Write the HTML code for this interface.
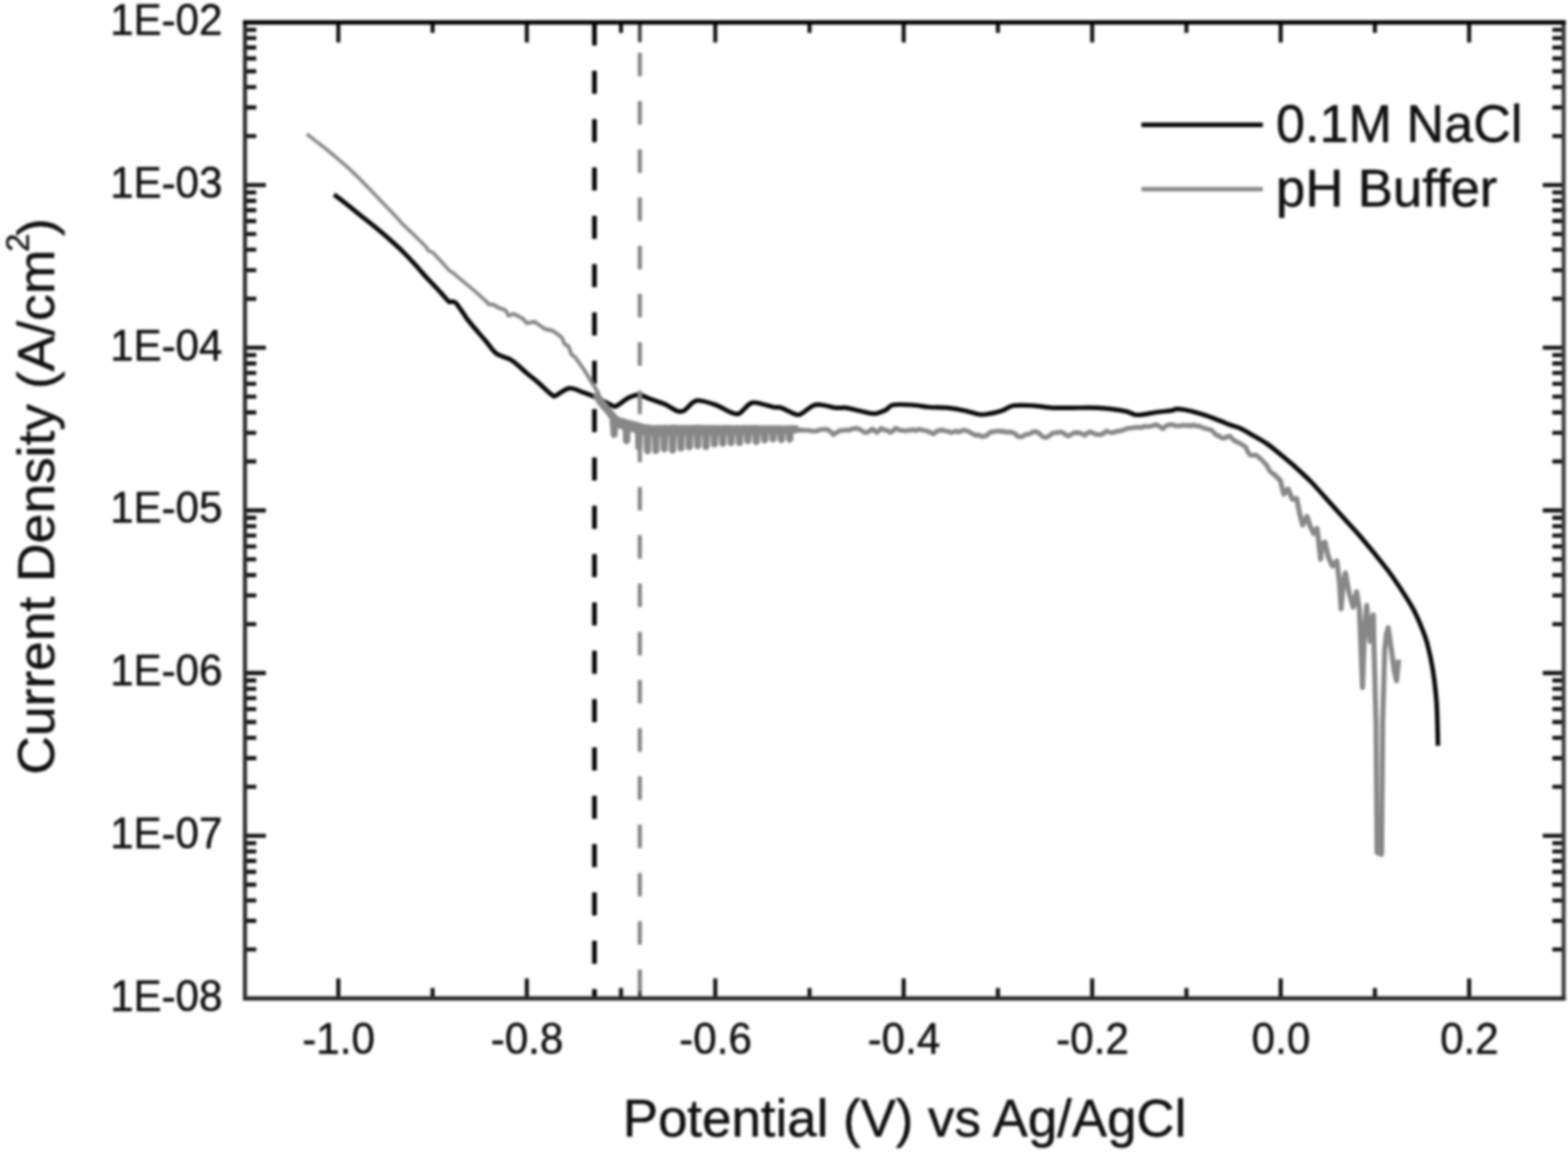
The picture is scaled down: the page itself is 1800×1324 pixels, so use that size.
<!DOCTYPE html>
<html lang="en">
<head>
<meta charset="utf-8">
<title>Polarization curves: Current Density vs Potential</title>
<style>
html,body{margin:0;padding:0;background:#fff;}
body{width:1800px;height:1324px;overflow:hidden;}
svg{display:block;}
svg{filter:blur(1.4px);}
</style>
</head>
<body>
<svg width="1800" height="1324" viewBox="0 0 1800 1324">
<rect x="0" y="0" width="1800" height="1324" fill="#fff"/>
<g id="art">
<line x1="682.4" y1="25.7" x2="682.4" y2="1146.5" stroke="#050505" stroke-width="5.4" stroke-dasharray="26.5 29"/>
<path d="M383.5 223.4C385.9 225.2 393.2 230.7 398.0 234.5C402.8 238.3 408.1 242.8 412.5 246.3C416.9 249.9 420.5 252.6 424.5 255.8C428.5 259.0 432.6 262.3 436.7 265.7C440.8 269.1 444.6 272.4 448.8 276.2C453.0 280.0 457.4 283.9 462.0 288.5C466.6 293.1 471.9 298.7 476.3 303.5C480.7 308.3 484.7 313.3 488.3 317.3C491.9 321.3 494.8 324.1 498.0 327.5C501.2 330.9 505.1 335.0 507.7 337.9C510.3 340.8 512.1 343.1 513.5 344.6C514.9 346.1 515.2 346.5 516.2 346.8C517.2 347.1 518.3 346.1 519.5 346.3C520.7 346.5 521.6 346.2 523.4 348.0C525.1 349.8 527.8 353.9 530.0 357.0C532.2 360.1 533.6 362.8 536.7 366.9C539.8 371.0 545.2 377.2 548.8 381.4C552.3 385.6 554.5 387.9 558.0 392.0C561.5 396.1 565.1 402.6 570.0 406.2C574.9 409.9 581.7 410.0 587.5 413.8C593.3 417.5 600.1 424.7 605.0 428.8C609.9 432.8 612.0 434.2 616.7 438.3C621.4 442.4 629.7 450.7 633.3 453.3C636.9 455.9 635.0 455.4 638.3 454.2C641.6 452.9 648.0 446.4 653.3 445.8C658.6 445.2 664.4 448.9 670.0 450.8C675.6 452.8 681.2 455.0 686.7 457.5C692.2 460.0 699.7 464.4 703.3 465.8C706.9 467.2 705.2 467.3 708.3 465.8C711.4 464.3 717.5 458.8 721.7 456.7C725.9 454.6 729.1 453.0 733.3 453.3C737.5 453.6 741.7 456.5 746.7 458.3C751.7 460.1 758.3 462.0 763.3 464.2C768.3 466.4 773.1 470.4 776.7 471.7C780.3 472.9 782.0 473.2 785.0 471.7C788.0 470.2 792.1 464.4 795.0 462.5C797.9 460.6 798.0 459.6 802.5 460.0C807.0 460.4 815.7 462.8 821.7 465.0C827.7 467.2 833.9 471.6 838.3 473.3C842.7 475.0 844.7 476.5 848.3 475.0C851.9 473.5 856.7 466.3 860.0 464.2C863.3 462.1 863.6 461.9 868.3 462.5C873.0 463.1 883.6 466.5 888.3 467.5C893.0 468.5 892.5 466.9 896.7 468.3C900.9 469.7 909.4 474.7 913.3 475.8C917.2 476.9 916.7 476.7 920.0 475.0C923.3 473.3 929.4 467.5 933.3 465.8C937.2 464.1 938.8 464.6 943.3 465.0C947.8 465.4 955.3 467.8 960.0 468.3C964.7 468.9 967.2 467.7 971.7 468.3C976.2 468.9 981.4 470.6 986.7 471.7C992.0 472.8 998.3 475.1 1003.3 475.0C1008.3 474.9 1013.1 472.5 1016.7 470.8C1020.3 469.1 1020.0 466.0 1025.0 465.0C1030.0 464.0 1039.8 464.6 1046.7 465.0C1053.7 465.4 1059.8 466.9 1066.7 467.5C1073.6 468.1 1081.4 467.6 1088.3 468.3C1095.2 469.0 1102.5 470.4 1108.3 471.7C1114.1 472.9 1119.4 475.1 1123.3 475.8C1127.2 476.5 1127.2 476.5 1131.7 475.8C1136.2 475.1 1144.7 473.4 1150.0 471.7C1155.3 470.0 1157.2 466.8 1163.3 465.8C1169.4 464.8 1179.2 465.4 1186.7 465.8C1194.2 466.2 1201.1 467.9 1208.3 468.3C1215.5 468.7 1221.4 468.3 1230.0 468.3C1238.6 468.3 1251.7 468.0 1260.0 468.3C1268.3 468.6 1274.5 469.6 1280.0 470.3C1285.5 471.0 1289.4 471.5 1293.3 472.5C1297.2 473.5 1300.0 475.8 1303.3 476.3C1306.6 476.9 1308.8 476.4 1313.3 475.8C1317.8 475.2 1325.0 473.7 1330.0 473.0C1335.0 472.3 1339.7 472.2 1343.3 471.7C1346.9 471.1 1348.4 469.8 1351.7 469.7C1355.0 469.6 1358.6 470.3 1363.3 471.3C1368.0 472.3 1374.4 474.1 1380.0 475.8C1385.6 477.5 1391.2 479.6 1396.7 481.7C1402.2 483.8 1408.9 486.6 1413.3 488.3C1417.7 490.0 1419.1 489.8 1423.3 491.7C1427.5 493.6 1433.0 496.9 1438.3 500.0C1443.6 503.1 1449.4 506.1 1455.0 510.0C1460.6 513.9 1466.2 518.7 1471.7 523.3C1477.2 527.9 1482.8 532.5 1488.3 537.5C1493.8 542.5 1499.4 547.6 1505.0 553.3C1510.6 559.0 1515.3 564.6 1521.7 571.7C1528.1 578.8 1536.9 588.7 1543.3 595.8C1549.7 602.9 1554.4 607.8 1560.0 614.2C1565.6 620.6 1571.2 627.4 1576.7 634.2C1582.2 641.0 1588.0 647.9 1593.3 655.0C1598.6 662.1 1603.6 669.5 1608.3 676.7C1613.0 683.9 1617.8 691.1 1621.7 698.3C1625.6 705.5 1628.9 713.1 1631.7 720.0C1634.5 726.9 1636.4 731.2 1638.6 739.6C1640.8 748.0 1643.3 759.7 1645.0 770.4C1646.7 781.1 1648.0 793.1 1648.9 803.8C1649.8 814.5 1649.9 825.8 1650.2 834.6C1650.5 843.4 1650.6 852.8 1650.7 856.4" fill="none" stroke="#050505" stroke-width="5.2" stroke-linejoin="round" stroke-linecap="butt"/>
<polyline points="352.1,153.9 364.0,163.0 376.3,172.6 388.0,182.5 400.4,193.2 412.5,205.0 424.6,217.3 436.5,229.8 448.8,242.7 464.2,259.3 476.3,270.8 488.3,282.6 492.0,288.0 496.8,289.8 507.7,301.6 516.1,311.0 519.8,313.1 530.6,322.2 545.1,334.3 558.4,346.3" fill="none" stroke="#878787" stroke-width="4.0" stroke-linejoin="round" stroke-linecap="butt"/>
<polyline points="558.4,346.3 560.8,349.2 566.9,350.0 572.9,353.6 580.2,356.0 583.8,362.5 589.8,360.4 600.0,365.7 605.0,371.2 613.8,369.5 625.0,377.5 635.0,380.0 645.0,387.5 648.0,395.0 652.5,397.5 656.0,407.0 660.0,410.0 670.0,423.8 680.0,440.0 686.0,450.0 689.0,460.0" fill="none" stroke="#878787" stroke-width="4.4" stroke-linejoin="round" stroke-linecap="round"/>
<polyline points="685.5,455.0 690.0,462.0 696.0,469.0 702.0,476.5 706.0,481.0" fill="none" stroke="#878787" stroke-width="9" stroke-linejoin="round" stroke-linecap="round"/>
<polygon points="700.0,474.4 703.0,476.1 706.0,477.7 709.0,478.3 712.0,479.7 715.0,480.5 718.0,481.2 721.0,482.4 724.0,482.9 727.0,484.0 730.0,484.5 733.0,485.3 736.0,486.3 739.0,487.3 742.0,487.5 745.0,488.1 748.0,488.4 751.0,488.7 754.0,488.4 757.0,488.3 760.0,488.7 763.0,488.0 766.0,488.6 769.0,488.2 772.0,488.1 775.0,488.1 778.0,488.2 781.0,488.7 784.0,488.2 787.0,488.5 790.0,488.5 793.0,488.3 796.0,488.5 799.0,488.1 802.0,488.1 805.0,488.2 808.0,488.6 811.0,488.4 814.0,488.4 817.0,488.6 820.0,488.5 823.0,488.4 826.0,488.8 829.0,488.7 832.0,488.3 835.0,488.6 838.0,488.6 841.0,488.9 844.0,488.8 847.0,488.4 850.0,489.0 853.0,488.3 856.0,488.6 859.0,488.8 862.0,488.4 865.0,488.6 868.0,488.3 871.0,488.8 874.0,488.9 877.0,488.7 880.0,489.0 883.0,488.6 886.0,488.9 889.0,488.8 892.0,488.8 895.0,488.7 898.0,489.0 901.0,489.1 904.0,488.7 907.0,488.9 910.0,488.4 913.0,488.9 916.0,488.9 917.0,491.8 917.0,496.2 911.1,497.6 910.5,499.2 910.1,506.0 907.5,508.0 905.5,508.0 902.9,506.0 902.5,499.2 901.9,497.8 901.5,497.8 900.9,499.4 900.5,506.4 897.9,508.4 895.9,508.4 893.3,506.4 892.9,499.4 892.3,497.9 891.9,497.9 891.3,499.5 890.9,505.7 888.3,507.7 886.3,507.7 883.7,505.7 883.3,499.5 882.7,498.1 882.3,498.1 881.7,499.7 881.3,506.9 878.7,508.9 876.7,508.9 874.1,506.9 873.7,499.7 873.1,498.3 872.7,498.3 872.1,499.9 871.7,508.7 869.1,510.7 867.1,510.7 864.5,508.7 864.1,499.9 863.5,498.4 863.1,498.4 862.5,500.0 862.1,507.7 859.5,509.7 857.5,509.7 854.9,507.7 854.5,500.0 853.9,498.6 853.5,498.6 852.9,500.2 852.5,509.9 849.9,511.9 847.9,511.9 845.3,509.9 844.9,500.2 844.3,498.8 843.9,498.8 843.3,500.4 842.9,510.0 840.3,512.0 838.3,512.0 835.7,510.0 835.3,500.4 834.7,498.9 834.3,498.9 833.7,500.5 833.3,510.7 830.7,512.7 828.7,512.7 826.1,510.7 825.7,500.5 825.1,499.1 824.7,499.1 824.1,500.7 823.7,511.5 821.1,513.5 819.1,513.5 816.5,511.5 816.1,500.7 815.5,499.3 815.1,499.3 814.5,500.9 814.1,514.5 811.5,516.5 809.5,516.5 806.9,514.5 806.5,500.9 805.9,499.4 805.5,499.4 804.9,501.0 804.5,513.5 801.9,515.5 799.9,515.5 797.3,513.5 796.9,501.0 796.3,499.6 795.9,499.6 795.3,501.2 794.9,514.8 792.3,516.8 790.3,516.8 787.7,514.8 787.3,501.2 786.7,499.8 786.3,499.8 785.7,501.4 785.3,516.2 782.7,518.2 780.7,518.2 778.1,516.2 777.7,501.4 777.1,499.9 776.7,499.9 776.1,501.5 775.7,518.5 773.1,520.5 771.1,520.5 768.5,518.5 768.1,501.5 767.5,500.1 767.1,500.1 766.5,501.7 766.1,517.1 763.5,519.1 761.5,519.1 758.9,517.1 758.5,501.7 757.9,500.3 757.5,500.3 756.9,501.9 756.5,519.1 753.9,521.1 751.9,521.1 749.3,519.1 748.9,501.9 748.3,500.4 747.9,500.4 747.3,501.6 746.9,519.3 744.3,521.3 742.3,521.3 739.7,519.3 739.3,501.6 738.7,499.0 738.0,499.0 737.4,499.3 737.0,515.2 734.4,517.2 732.4,517.2 729.8,515.2 729.4,499.3 728.8,496.6 723.9,495.5 723.3,495.7 722.9,507.8 720.3,509.8 718.3,509.8 715.7,507.8 715.3,495.7 714.7,492.8 709.6,491.4 709.0,491.1 708.6,500.6 706.0,502.6 704.0,502.6 701.4,500.6 701.0,491.1 700.4,487.2 700.0,479.0" fill="#878787" stroke="#878787" stroke-width="0.8" stroke-linejoin="round"/>
<polyline points="917.0,494.0 920.2,493.7 923.5,494.1 926.8,494.1 930.0,494.5 933.3,495.1 936.7,495.1 940.0,494.0 943.3,493.1 946.7,492.9 950.0,493.3 953.4,495.7 956.7,499.2 959.5,497.0 962.2,495.8 965.0,494.2 968.3,494.4 971.7,493.7 975.0,494.2 977.8,492.4 980.5,492.4 983.3,491.7 986.2,492.7 989.1,494.3 992.1,496.4 995.0,496.7 998.4,495.0 1001.7,492.5 1004.2,494.6 1006.7,496.7 1009.2,494.4 1011.7,491.7 1015.0,493.7 1018.4,494.1 1021.7,496.7 1025.0,495.0 1028.3,491.7 1031.1,493.1 1033.9,494.1 1036.7,494.2 1039.6,494.8 1042.5,494.0 1045.4,494.0 1048.3,493.4 1051.3,494.5 1054.2,493.3 1057.1,493.3 1060.0,494.2 1062.9,494.6 1065.8,495.6 1068.8,497.0 1071.7,498.3 1075.0,495.4 1078.3,494.2 1081.7,493.8 1085.0,494.8 1088.3,495.3 1091.7,496.7 1094.5,496.0 1097.2,494.9 1100.0,496.2 1102.8,495.3 1105.5,493.9 1108.3,494.2 1111.2,495.2 1114.2,496.8 1117.1,498.3 1120.0,500.0 1123.3,499.5 1126.7,501.2 1130.0,500.8 1132.8,500.1 1135.5,497.4 1138.3,495.8 1141.2,495.8 1144.0,495.0 1146.9,495.0 1149.7,495.5 1152.6,495.3 1155.4,496.5 1158.3,495.8 1161.7,496.6 1165.0,497.8 1168.3,501.1 1171.7,501.7 1174.6,500.7 1177.5,498.9 1180.4,498.6 1183.3,497.5 1186.7,495.7 1190.0,495.8 1193.3,498.1 1196.7,501.2 1200.0,502.5 1202.8,501.6 1205.5,499.6 1208.3,497.5 1211.2,496.8 1214.2,496.8 1217.1,496.2 1220.0,496.7 1223.3,499.3 1226.7,500.8 1230.0,498.8 1233.3,496.7 1235.8,497.3 1238.3,496.7 1241.7,498.0 1245.0,500.0 1248.3,497.3 1251.7,495.8 1254.6,497.3 1257.5,498.5 1260.4,499.1 1263.3,499.2 1266.7,497.7 1270.0,495.0 1272.8,496.2 1275.5,496.6 1278.3,496.7 1281.6,495.3 1285.0,495.1 1288.3,494.2 1291.1,493.3 1293.9,492.1 1296.7,491.6 1299.4,491.5 1302.2,490.9 1305.0,490.8 1308.1,490.7 1311.2,490.8 1314.3,489.3 1317.4,489.8 1320.5,489.4 1323.6,488.9 1326.7,487.5 1329.5,488.9 1332.2,490.3 1335.0,492.5 1337.5,489.9 1340.0,488.3 1342.9,487.7 1345.8,487.7 1348.7,488.5 1351.7,489.1 1354.6,489.0 1357.5,488.3 1360.4,488.6 1363.3,488.3 1366.7,489.1 1370.0,487.9 1373.3,489.3 1376.7,489.2 1380.0,491.0 1383.3,491.8 1386.7,492.8 1390.0,493.3 1393.3,496.6 1396.7,500.0 1399.5,500.5 1402.2,502.8 1405.0,503.3 1408.3,501.7 1411.7,500.8 1414.5,503.6 1417.2,506.2 1420.0,507.5 1423.3,509.2 1426.7,511.2 1430.0,513.3 1432.5,518.8 1435.0,522.5 1438.3,522.9 1441.7,522.5 1445.0,524.9 1448.4,527.9 1451.7,531.7 1454.5,534.9 1457.2,540.2 1460.0,543.3 1462.0,544.0" fill="none" stroke="#878787" stroke-width="5.4" stroke-linejoin="round" stroke-linecap="round"/>
<polyline points="1462.0,544.0 1466.0,548.0 1469.8,551.8 1473.8,567.5 1478.7,561.6 1483.6,573.4 1488.5,572.4 1492.0,590.0 1495.4,602.9 1500.3,593.0 1504.0,604.0 1508.1,612.7 1512.0,606.8 1516.0,642.2 1518.0,624.0 1520.9,622.5 1525.0,640.0 1529.7,650.0 1534.7,644.1 1537.5,668.0 1539.6,699.1 1542.0,668.0 1544.5,657.9 1548.5,680.0 1553.3,697.2 1557.3,679.5 1560.5,700.0 1564.1,789.5 1566.5,720.0 1569.0,695.2 1571.0,722.0 1573.0,736.5 1575.0,712.0 1576.5,706.0 1577.2,740.0 1579.6,830.0 1580.8,979.0 1586.0,981.0 1587.2,830.0 1589.6,746.0 1591.5,728.0 1593.6,720.7 1597.5,748.0 1600.5,770.0 1603.2,781.7 1605.6,757.5" fill="none" stroke="#878787" stroke-width="5.8" stroke-linejoin="round" stroke-linecap="butt"/>
<line x1="734.5" y1="60.6" x2="734.5" y2="1146.5" stroke="#878787" stroke-width="4.8" stroke-dasharray="27 28.4"/>
<line x1="734.5" y1="25.7" x2="734.5" y2="48.5" stroke="#3c3c3c" stroke-width="4.2"/>
<line x1="734.5" y1="1139" x2="734.5" y2="1146.5" stroke="#3c3c3c" stroke-width="4.2"/>
<path d="M388.4 1146.5v-23M496.6 1146.5v-12M604.8 1146.5v-23M712.9 1146.5v-12M821.1 1146.5v-23M929.3 1146.5v-12M1037.4 1146.5v-23M1145.6 1146.5v-12M1253.8 1146.5v-23M1362.0 1146.5v-12M1470.2 1146.5v-23M1578.3 1146.5v-12M1686.5 1146.5v-23M281.2 1090.3h13M281.2 1057.4h13M281.2 1034.0h13M281.2 1015.9h13M281.2 1001.1h13M281.2 988.6h13M281.2 977.8h13M281.2 968.2h13M281.2 959.7h24M281.2 903.5h13M281.2 870.6h13M281.2 847.2h13M281.2 829.1h13M281.2 814.3h13M281.2 801.8h13M281.2 791.0h13M281.2 781.4h13M281.2 772.9h24M281.2 716.7h13M281.2 683.8h13M281.2 660.4h13M281.2 642.3h13M281.2 627.5h13M281.2 615.0h13M281.2 604.2h13M281.2 594.6h13M281.2 586.1h24M281.2 529.9h13M281.2 497.0h13M281.2 473.6h13M281.2 455.5h13M281.2 440.7h13M281.2 428.2h13M281.2 417.4h13M281.2 407.8h13M281.2 399.3h24M281.2 343.1h13M281.2 310.2h13M281.2 286.8h13M281.2 268.7h13M281.2 253.9h13M281.2 241.4h13M281.2 230.6h13M281.2 221.0h13M281.2 212.5h24M281.2 156.3h13M281.2 123.4h13M281.2 100.0h13M281.2 81.9h13M281.2 67.1h13M281.2 54.6h13M281.2 43.8h13M281.2 34.2h13M388.4 25.7v23M496.6 25.7v12M604.8 25.7v23M712.9 25.7v12M821.1 25.7v23M929.3 25.7v12M1037.4 25.7v23M1145.6 25.7v12M1253.8 25.7v23M1362.0 25.7v12M1470.2 25.7v23M1578.3 25.7v12M1686.5 25.7v23M1795.0 1090.3h-13M1795.0 1057.4h-13M1795.0 1034.0h-13M1795.0 1015.9h-13M1795.0 1001.1h-13M1795.0 988.6h-13M1795.0 977.8h-13M1795.0 968.2h-13M1795.0 959.7h-24M1795.0 903.5h-13M1795.0 870.6h-13M1795.0 847.2h-13M1795.0 829.1h-13M1795.0 814.3h-13M1795.0 801.8h-13M1795.0 791.0h-13M1795.0 781.4h-13M1795.0 772.9h-24M1795.0 716.7h-13M1795.0 683.8h-13M1795.0 660.4h-13M1795.0 642.3h-13M1795.0 627.5h-13M1795.0 615.0h-13M1795.0 604.2h-13M1795.0 594.6h-13M1795.0 586.1h-24M1795.0 529.9h-13M1795.0 497.0h-13M1795.0 473.6h-13M1795.0 455.5h-13M1795.0 440.7h-13M1795.0 428.2h-13M1795.0 417.4h-13M1795.0 407.8h-13M1795.0 399.3h-24M1795.0 343.1h-13M1795.0 310.2h-13M1795.0 286.8h-13M1795.0 268.7h-13M1795.0 253.9h-13M1795.0 241.4h-13M1795.0 230.6h-13M1795.0 221.0h-13M1795.0 212.5h-24M1795.0 156.3h-13M1795.0 123.4h-13M1795.0 100.0h-13M1795.0 81.9h-13M1795.0 67.1h-13M1795.0 54.6h-13M1795.0 43.8h-13M1795.0 34.2h-13" stroke="#0e0e0e" stroke-width="4.6" fill="none"/>
<path d="M281.2 23.4V1148.8" fill="none" stroke="#2a2a2a" stroke-width="4.6"/>
<path d="M1795.0 23.4V1148.8" fill="none" stroke="#3c3c3c" stroke-width="4.6"/>
<path d="M278.9 1146.5H1797.3" fill="none" stroke="#2c2c2c" stroke-width="4.8"/>
<path d="M278.9 25.7H1797.3" fill="none" stroke="#000" stroke-width="4.9"/>
<line x1="1310.3" y1="143.3" x2="1449.7" y2="143.3" stroke="#050505" stroke-width="5.2"/>
<line x1="1310.3" y1="217.3" x2="1449.7" y2="217.3" stroke="#878787" stroke-width="5.0"/>
<g font-family="'Liberation Sans', Arial, Helvetica, sans-serif" fill="#101010" stroke="#101010" stroke-width="0.55" stroke-linejoin="round">
<text transform="translate(1464.8 163.0) scale(0.9985 1.018)" font-size="60" text-anchor="start">0.1M NaCl</text>
<text transform="translate(1464.8 236.7) scale(1.007 1.018)" font-size="60" text-anchor="start">pH Buffer</text>
<text transform="translate(255.3 1160.7) scale(0.966 1.018)" font-size="50" text-anchor="end">1E-08</text>
<text transform="translate(255.3 973.9) scale(0.966 1.018)" font-size="50" text-anchor="end">1E-07</text>
<text transform="translate(255.3 787.1) scale(0.966 1.018)" font-size="50" text-anchor="end">1E-06</text>
<text transform="translate(255.3 600.3) scale(0.966 1.018)" font-size="50" text-anchor="end">1E-05</text>
<text transform="translate(255.3 413.5) scale(0.966 1.018)" font-size="50" text-anchor="end">1E-04</text>
<text transform="translate(255.3 226.7) scale(0.966 1.018)" font-size="50" text-anchor="end">1E-03</text>
<text transform="translate(255.3 39.9) scale(0.966 1.018)" font-size="50" text-anchor="end">1E-02</text>
<text transform="translate(388.7 1209.8) scale(0.968 1.018)" font-size="50" text-anchor="middle">-1.0</text>
<text transform="translate(605.0 1209.8) scale(0.968 1.018)" font-size="50" text-anchor="middle">-0.8</text>
<text transform="translate(821.4 1209.8) scale(0.968 1.018)" font-size="50" text-anchor="middle">-0.6</text>
<text transform="translate(1037.7 1209.8) scale(0.968 1.018)" font-size="50" text-anchor="middle">-0.4</text>
<text transform="translate(1254.1 1209.8) scale(0.968 1.018)" font-size="50" text-anchor="middle">-0.2</text>
<text transform="translate(1470.5 1209.8) scale(0.968 1.018)" font-size="50" text-anchor="middle">0.0</text>
<text transform="translate(1686.8 1209.8) scale(0.968 1.018)" font-size="50" text-anchor="middle">0.2</text>
<text transform="translate(1038.4 1304.5) scale(1.0105 1.018)" font-size="60" text-anchor="middle">Potential (V) vs Ag/AgCl</text>
<text transform="translate(61.7 889.6) rotate(-90) scale(1.0217 1.0)" font-size="60" text-anchor="start">Current Density (A/cm<tspan font-size="37" dy="-29" dx="-2.4">2</tspan><tspan dy="29" dx="-2.6">)</tspan></text>
</g>
</g>
</svg>
</body>
</html>
